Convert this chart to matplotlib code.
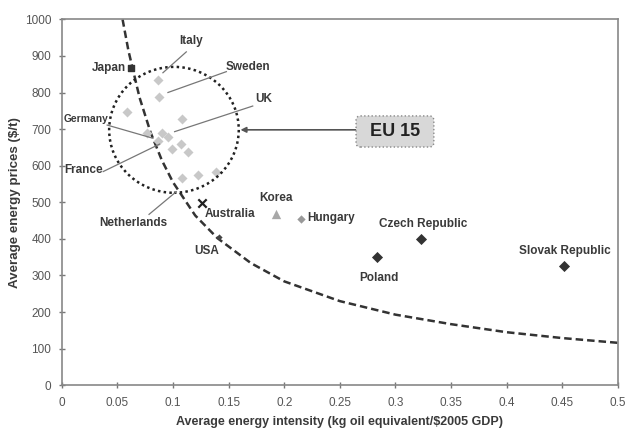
import matplotlib.pyplot as plt
from matplotlib.patches import Ellipse, FancyBboxPatch

plt.rcParams['font.family'] = ['Liberation Sans', 'DejaVu Sans']

# EU 15 members (unlabelled light grey diamonds)
eu_x = [0.0866, 0.0875, 0.0588, 0.1084, 0.0767, 0.0905, 0.0955,
        0.0866, 0.1075, 0.0995, 0.1134, 0.1084, 0.1224, 0.1383]
eu_y = [834, 787, 748, 727, 690, 690, 678,
        668, 659, 645, 638, 566, 575, 584]

# other countries
japan = (0.062, 866)
australia = (0.126, 499)
korea = (0.193, 467)
hungary = (0.2153, 454)
usa = (0.141, 406)
dark_names = ['Poland', 'Czech Republic', 'Slovak Republic']
dark_x = [0.2834, 0.3229, 0.4516]
dark_y = [351, 399, 325]

# dashed iso-curve, points
curve_x = [0.0547, 0.06, 0.07, 0.08, 0.09, 0.10, 0.12, 0.14, 0.17,
           0.20, 0.25, 0.30, 0.35, 0.40, 0.45, 0.50]
curve_y = [1000, 914, 786, 690, 615, 555, 464, 402, 334,
           284, 230, 193, 167, 145, 129, 116]

txt = '#3a3a3a'
fig = plt.figure(figsize=(6.27, 4.29), dpi=100)
ax = fig.add_axes([0.0984, 0.1019, 0.8872, 0.8531])

ax.plot(curve_x, curve_y, ls=(0, (3, 1.6)), color='#333333', lw=1.8, zorder=2)

ax.scatter(eu_x, eu_y, marker='D', s=26, color='#c8c8c8', zorder=3, lw=0)
ax.scatter(*japan, marker='s', s=14, color='#333333', zorder=3)
ax.scatter(*australia, marker='x', s=36, color='#222222', lw=1.6, zorder=3)
ax.scatter(*korea, marker='^', s=45, color='#a8a8a8', lw=0, zorder=3)
ax.scatter(*hungary, marker='D', s=18, color='#999999', lw=0, zorder=3)
ax.scatter(*usa, marker='D', s=10, color='#444444', lw=0, zorder=3)
ax.scatter(dark_x, dark_y, marker='D', s=32, color='#333333', lw=0, zorder=3)

circle = Ellipse((0.1009, 698), 0.1165, 344, fill=False, ls=(0, (1, 1.3)),
                 lw=1.8, edgecolor='#222222', zorder=4)
ax.add_patch(circle)

lab = dict(fontsize=8.5, fontweight='bold', color=txt, ha='center', va='center')
ax.text(0.0424, 866, 'Japan', **lab)
ax.text(0.151, 467, 'Australia', **lab)
ax.text(0.193, 511, 'Korea', **lab)
ax.text(0.242, 456, 'Hungary', **lab)
ax.text(0.13, 368, 'USA', **lab)
ax.text(0.2852, 294, dark_names[0], **lab)
ax.text(0.3246, 441, dark_names[1], **lab)
ax.text(0.4525, 368, dark_names[2], **lab)

# labels with leader lines
leaders = [
    ('Italy', (0.1165, 942), (0.112, 911), (0.091, 854)),
    ('Sweden', (0.167, 871), (0.148, 857), (0.0955, 800)),
    ('UK', (0.182, 781), (0.1717, 763), (0.1015, 693)),
    ('Germany', (0.0218, 728), (0.0409, 711), (0.082, 675)),
    ('France', (0.0194, 588), (0.0373, 584), (0.088, 659)),
    ('Netherlands', (0.0642, 443), (0.0785, 467), (0.103, 529)),
]
for name, tpos, p0, p1 in leaders:
    size = 7.4 if name == 'Germany' else 8.5
    ax.text(*tpos, name, fontsize=size, fontweight='bold', color=txt,
            ha='center', va='center')
    ax.plot([p0[0], p1[0]], [p0[1], p1[1]], color='#777777', lw=0.9, zorder=5)

ax.annotate('', xy=(0.1607, 698), xytext=(0.2646, 698),
            arrowprops=dict(arrowstyle='-|>', color='#555555', lw=1.2,
                            mutation_scale=8, shrinkA=0, shrinkB=0))
box = FancyBboxPatch((0.2646, 651), 0.0699, 85,
                     boxstyle='round,pad=0,rounding_size=0.004',
                     mutation_aspect=3049, fc='#d8d8d8', ec='#888888',
                     ls=':', lw=1, zorder=5)
ax.add_patch(box)
ax.text(0.2996, 693, 'EU 15', fontsize=13, fontweight='bold', color='#222222',
        ha='center', va='center', zorder=6)

ax.set_xlim(0, 0.5)
ax.set_ylim(0, 1000)
ax.set_xticks([0, 0.05, 0.1, 0.15, 0.2, 0.25, 0.3, 0.35, 0.4, 0.45, 0.5])
ax.set_xticklabels(['0', '0.05', '0.1', '0.15', '0.2', '0.25', '0.3', '0.35',
                    '0.4', '0.45', '0.5'])
ax.set_yticks(range(0, 1001, 100))
ax.tick_params(direction='inout', length=5, width=1, colors='#777777',
               labelcolor='#555555', labelsize=8.5)
ax.tick_params(axis='x', pad=6)
ax.tick_params(axis='y', pad=5)
for s in ax.spines.values():
    s.set_color('#888888')
    s.set_linewidth(1.2)

ax.set_xlabel('Average energy intensity (kg oil equivalent/$2005 GDP)',
              fontsize=9, fontweight='bold', color=txt, labelpad=5)
ax.set_ylabel('Average energy prices ($/t)', fontsize=9.6, fontweight='bold',
              color=txt, labelpad=3)

fig.savefig('out.png', dpi=100)
